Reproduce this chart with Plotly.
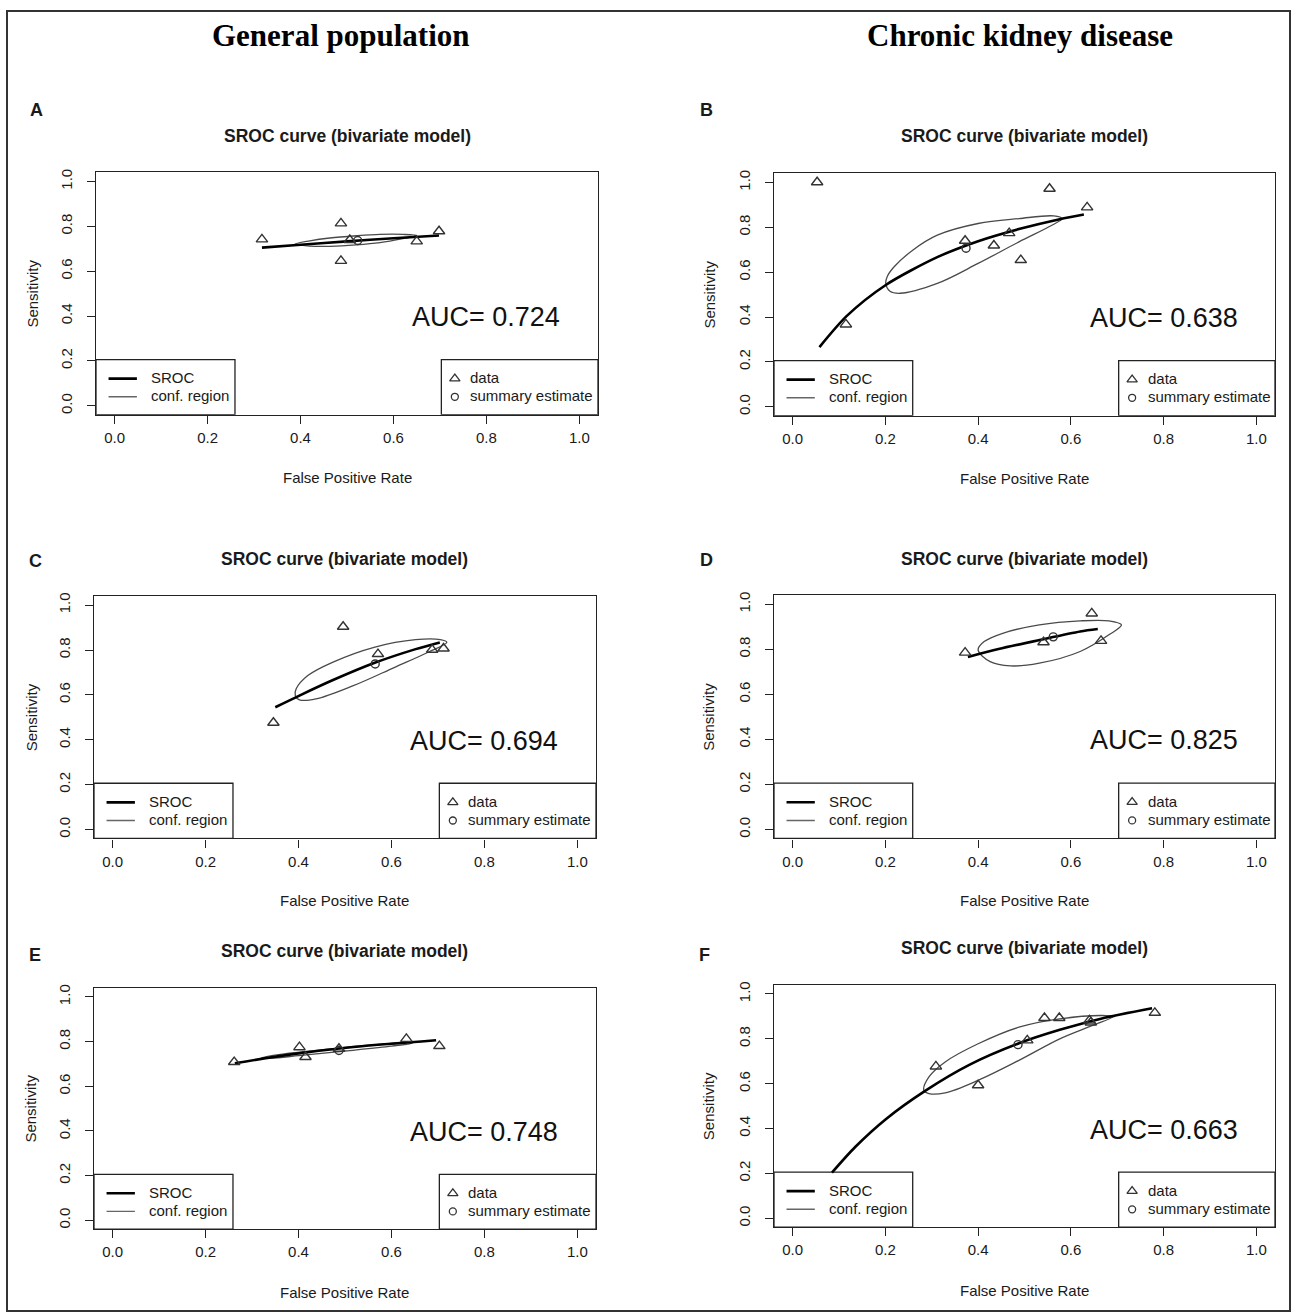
import plotly.graph_objects as go

W, H = 1293, 1313

# ---------------- data ----------------
panel_letters = ["A", "B", "C", "D", "E", "F"]
auc_values = ["0.724", "0.638", "0.694", "0.825", "0.748", "0.663"]
column_titles = ["General population", "Chronic kidney disease"]
tick_vals = [0.0, 0.2, 0.4, 0.6, 0.8, 1.0]
tick_text = ["0.0", "0.2", "0.4", "0.6", "0.8", "1.0"]

# Panel A
A_data_fpr = [0.317, 0.487, 0.487, 0.650, 0.698, 0.506]
A_data_sens = [0.742, 0.813, 0.646, 0.733, 0.778, 0.739]
A_sum_fpr = [0.523]
A_sum_sens = [0.737]
A_sroc_fpr = [0.317, 0.400, 0.500, 0.600, 0.698]
A_sroc_sens = [0.705, 0.718, 0.733, 0.747, 0.759]
A_ell_fpr = [0.388, 0.420, 0.463, 0.520, 0.571, 0.620, 0.650, 0.620, 0.571, 0.520, 0.463, 0.420, 0.388]
A_ell_sens = [0.720, 0.735, 0.748, 0.758, 0.764, 0.764, 0.759, 0.745, 0.727, 0.717, 0.711, 0.712, 0.720]

# Panel B
B_data_fpr = [0.053, 0.554, 0.635, 0.372, 0.434, 0.467, 0.492, 0.115]
B_data_sens = [1.001, 0.972, 0.889, 0.740, 0.719, 0.774, 0.654, 0.367]
B_sum_fpr = [0.374]
B_sum_sens = [0.707]
B_sroc_fpr = [0.058, 0.117, 0.201, 0.312, 0.400, 0.488, 0.576, 0.628]
B_sroc_sens = [0.266, 0.405, 0.543, 0.667, 0.738, 0.792, 0.836, 0.857]
B_ell_fpr = [0.581, 0.563, 0.488, 0.400, 0.312, 0.259, 0.219, 0.204, 0.201, 0.210, 0.232, 0.312, 0.400, 0.488, 0.559, 0.581]
B_ell_sens = [0.839, 0.851, 0.839, 0.817, 0.765, 0.698, 0.624, 0.580, 0.550, 0.515, 0.506, 0.550, 0.639, 0.735, 0.809, 0.839]

# Panel C
C_data_fpr = [0.496, 0.571, 0.6875, 0.712, 0.346]
C_data_sens = [0.904, 0.782, 0.801, 0.807, 0.476]
C_sum_fpr = [0.565]
C_sum_sens = [0.738]
C_sroc_fpr = [0.350, 0.402, 0.473, 0.5625, 0.652, 0.704]
C_sroc_sens = [0.545, 0.597, 0.665, 0.742, 0.804, 0.834]
C_ell_fpr = [0.719, 0.705, 0.652, 0.5625, 0.473, 0.420, 0.395, 0.393, 0.402, 0.4375, 0.518, 0.607, 0.679, 0.719]
C_ell_sens = [0.834, 0.846, 0.846, 0.812, 0.745, 0.686, 0.627, 0.597, 0.578, 0.582, 0.641, 0.723, 0.790, 0.834]

# Panel D
D_data_fpr = [0.372, 0.541, 0.645, 0.665]
D_data_sens = [0.785, 0.831, 0.959, 0.837]
D_sum_fpr = [0.562]
D_sum_sens = [0.855]
D_sroc_fpr = [0.378, 0.444, 0.532, 0.620, 0.658]
D_sroc_sens = [0.766, 0.801, 0.841, 0.879, 0.890]
D_ell_fpr = [0.709, 0.682, 0.620, 0.532, 0.453, 0.413, 0.400, 0.426, 0.470, 0.532, 0.620, 0.682, 0.709]
D_ell_sens = [0.908, 0.926, 0.926, 0.908, 0.871, 0.834, 0.797, 0.745, 0.726, 0.738, 0.790, 0.864, 0.908]

# Panel E
E_data_fpr = [0.2616, 0.402, 0.415, 0.487, 0.632, 0.703]
E_data_sens = [0.7086, 0.775, 0.731, 0.768, 0.812, 0.780]
E_sum_fpr = [0.487]
E_sum_sens = [0.760]
E_sroc_fpr = [0.263, 0.384, 0.518, 0.696]
E_sroc_sens = [0.703, 0.743, 0.776, 0.806]
E_ell_fpr = [0.320, 0.380, 0.480, 0.580, 0.635, 0.645, 0.600, 0.500, 0.400, 0.340, 0.320]
E_ell_sens = [0.727, 0.748, 0.770, 0.789, 0.797, 0.793, 0.780, 0.758, 0.737, 0.726, 0.727]

# Panel F
F_data_fpr = [0.309, 0.400, 0.506, 0.543, 0.575, 0.640, 0.643, 0.781]
F_data_sens = [0.677, 0.593, 0.793, 0.893, 0.893, 0.882, 0.873, 0.916]
F_sum_fpr = [0.486]
F_sum_sens = [0.774]
F_sroc_fpr = [0.085, 0.135, 0.201, 0.285, 0.382, 0.488, 0.576, 0.665, 0.775]
F_sroc_sens = [0.204, 0.318, 0.442, 0.567, 0.685, 0.780, 0.840, 0.890, 0.936]
F_ell_fpr = [0.691, 0.665, 0.576, 0.488, 0.400, 0.329, 0.294, 0.283, 0.294, 0.329, 0.400, 0.488, 0.576, 0.647, 0.691]
F_ell_sens = [0.899, 0.904, 0.889, 0.852, 0.778, 0.697, 0.630, 0.571, 0.556, 0.559, 0.615, 0.704, 0.800, 0.860, 0.899]

panel_data = {
    "A": (A_data_fpr, A_data_sens, A_sum_fpr, A_sum_sens, A_sroc_fpr, A_sroc_sens, A_ell_fpr, A_ell_sens),
    "B": (B_data_fpr, B_data_sens, B_sum_fpr, B_sum_sens, B_sroc_fpr, B_sroc_sens, B_ell_fpr, B_ell_sens),
    "C": (C_data_fpr, C_data_sens, C_sum_fpr, C_sum_sens, C_sroc_fpr, C_sroc_sens, C_ell_fpr, C_ell_sens),
    "D": (D_data_fpr, D_data_sens, D_sum_fpr, D_sum_sens, D_sroc_fpr, D_sroc_sens, D_ell_fpr, D_ell_sens),
    "E": (E_data_fpr, E_data_sens, E_sum_fpr, E_sum_sens, E_sroc_fpr, E_sroc_sens, E_ell_fpr, E_ell_sens),
    "F": (F_data_fpr, F_data_sens, F_sum_fpr, F_sum_sens, F_sroc_fpr, F_sroc_sens, F_ell_fpr, F_ell_sens),
}

# ---------------- layout geometry (pixels) ----------------
# plot boxes: left, right, top, bottom
boxes = {
    "A": (96, 598, 169, 412),
    "B": (774, 1275, 170, 413),
    "C": (94, 596, 594, 837),
    "D": (774, 1275, 593, 837),
    "E": (94, 596, 987, 1229),
    "F": (774, 1275, 984, 1227),
}
subtitle_y = {"A": 132, "B": 132, "C": 557, "D": 557, "E": 950, "F": 947}
letter_pos = {"A": (36, 106), "B": (706, 106), "C": (35, 559), "D": (706, 558), "E": (35, 954), "F": (704, 954)}
xlabel_y = {"A": 475, "B": 476, "C": 899, "D": 899, "E": 1292, "F": 1290}
ylabel_x = {"A": 33, "B": 710, "C": 31, "D": 709, "E": 31, "F": 708}


def pxx(x):
    return x / W


def pyy(y):
    return 1 - y / H


SANS = "Liberation Sans, Arial, Helvetica, sans-serif"
SERIF = "Liberation Serif, Times New Roman, serif"
TXT = "#1a1a1a"
AX = "#222222"

fig = go.Figure()
layout = {}
shapes = []
annotations = []

RNG = [-0.04, 1.04]

for i, key in enumerate(panel_letters):
    n = "" if i == 0 else str(i + 1)
    xa, ya = "x" + n, "y" + n
    l, r, t, b = boxes[key]
    layout["xaxis" + n] = dict(
        domain=[pxx(l), pxx(r)], range=RNG, anchor=ya,
        showgrid=False, zeroline=False, showline=True, mirror=True,
        linecolor=AX, linewidth=1.3, ticks="outside", ticklen=8, tickwidth=1.2,
        tickcolor=AX, tickvals=tick_vals, ticktext=tick_text,
        tickfont=dict(family=SANS, size=15, color=TXT), ticklabelstandoff=1,
        fixedrange=True,
    )
    layout["yaxis" + n] = dict(
        domain=[pyy(b), pyy(t)], range=RNG, anchor=xa,
        showgrid=False, zeroline=False, showline=True, mirror=True,
        linecolor=AX, linewidth=1.3, ticks="outside", ticklen=8, tickwidth=1.2,
        tickcolor=AX, tickvals=tick_vals, ticktext=tick_text, tickangle=-90,
        tickfont=dict(family=SANS, size=15, color=TXT), ticklabelstandoff=9,
        fixedrange=True,
    )

    dfpr, dsens, sfpr, ssens, rfpr, rsens, efpr, esens = panel_data[key]

    # legend boxes (drawn beneath traces)
    shapes.append(dict(type="rect", xref=xa, yref=ya, x0=-0.04, x1=0.259, y0=-0.04, y1=0.206,
                       line=dict(color=AX, width=1.3), fillcolor="white", layer="below"))
    shapes.append(dict(type="rect", xref=xa, yref=ya, x0=0.703, x1=1.04, y0=-0.04, y1=0.206,
                       line=dict(color=AX, width=1.3), fillcolor="white", layer="below"))
    # legend line samples
    shapes.append(dict(type="line", xref=xa, yref=ya, x0=-0.013, x1=0.048, y0=0.121, y1=0.121,
                       line=dict(color="black", width=2.6), layer="below"))
    shapes.append(dict(type="line", xref=xa, yref=ya, x0=-0.013, x1=0.048, y0=0.040, y1=0.040,
                       line=dict(color="#666666", width=1.4), layer="below"))

    # confidence region
    fig.add_trace(go.Scatter(x=efpr, y=esens, mode="lines", xaxis=xa, yaxis=ya,
                             line=dict(color="#4a4a4a", width=1.3, shape="spline", smoothing=1.0),
                             showlegend=False, hoverinfo="skip"))
    # SROC curve
    fig.add_trace(go.Scatter(x=rfpr, y=rsens, mode="lines", xaxis=xa, yaxis=ya,
                             line=dict(color="black", width=2.6, shape="spline", smoothing=0.8),
                             showlegend=False, hoverinfo="skip"))
    # data points
    fig.add_trace(go.Scatter(x=dfpr, y=dsens, mode="markers", xaxis=xa, yaxis=ya,
                             marker=dict(symbol="triangle-up-open", size=10, color="#333333",
                                         line=dict(width=1.4, color="#333333")),
                             showlegend=False, hoverinfo="skip"))
    # summary estimate
    fig.add_trace(go.Scatter(x=sfpr, y=ssens, mode="markers", xaxis=xa, yaxis=ya,
                             marker=dict(symbol="circle-open", size=8, color="#333333",
                                         line=dict(width=1.4, color="#333333")),
                             showlegend=False, hoverinfo="skip"))
    # legend markers
    fig.add_trace(go.Scatter(x=[0.732], y=[0.121], mode="markers", xaxis=xa, yaxis=ya,
                             marker=dict(symbol="triangle-up-open", size=9, color="#333333",
                                         line=dict(width=1.3, color="#333333")),
                             showlegend=False, hoverinfo="skip"))
    fig.add_trace(go.Scatter(x=[0.732], y=[0.040], mode="markers", xaxis=xa, yaxis=ya,
                             marker=dict(symbol="circle-open", size=7, color="#333333",
                                         line=dict(width=1.3, color="#333333")),
                             showlegend=False, hoverinfo="skip"))

    legfont = dict(family=SANS, size=15, color=TXT)
    for txt, xx, yy in [("SROC", 0.074, 0.125), ("conf. region", 0.074, 0.044),
                        ("data", 0.761, 0.125), ("summary estimate", 0.761, 0.044)]:
        annotations.append(dict(text=txt, x=xx, y=yy, xref=xa, yref=ya, showarrow=False,
                                xanchor="left", yanchor="middle", font=legfont))

    # AUC text
    annotations.append(dict(text="AUC= " + auc_values[i], x=0.80, y=0.395, xref=xa, yref=ya,
                            showarrow=False, xanchor="center", yanchor="middle",
                            font=dict(family=SANS, size=27, color="#111111")))

    cx = (l + r) / 2
    # subtitle
    annotations.append(dict(text="<b>SROC curve (bivariate model)</b>", x=pxx(cx), y=pyy(subtitle_y[key]),
                            xref="paper", yref="paper", showarrow=False, xanchor="center",
                            yanchor="middle", font=dict(family=SANS, size=17.5, color=TXT)))
    # panel letter
    lx, ly = letter_pos[key]
    annotations.append(dict(text="<b>" + key + "</b>", x=pxx(lx), y=pyy(ly), xref="paper", yref="paper",
                            showarrow=False, xanchor="center", yanchor="middle",
                            font=dict(family=SANS, size=18, color=TXT)))
    # axis titles
    annotations.append(dict(text="False Positive Rate", x=pxx(cx), y=pyy(xlabel_y[key]), xref="paper",
                            yref="paper", showarrow=False, xanchor="center", yanchor="middle",
                            font=dict(family=SANS, size=15, color=TXT)))
    annotations.append(dict(text="Sensitivity", x=pxx(ylabel_x[key]), y=pyy((t + b) / 2), xref="paper",
                            yref="paper", showarrow=False, xanchor="center", yanchor="middle",
                            textangle=-90, font=dict(family=SANS, size=15, color=TXT)))

# column titles
annotations.append(dict(text="<b>" + column_titles[0] + "</b>", x=pxx(341), y=pyy(32), xref="paper",
                        yref="paper", showarrow=False, xanchor="center", yanchor="middle",
                        font=dict(family=SERIF, size=31, color="black")))
annotations.append(dict(text="<b>" + column_titles[1] + "</b>", x=pxx(1020), y=pyy(32), xref="paper",
                        yref="paper", showarrow=False, xanchor="center", yanchor="middle",
                        font=dict(family=SERIF, size=31, color="black")))

# outer frame
shapes.append(dict(type="rect", xref="paper", yref="paper", x0=pxx(7), x1=pxx(1290), y0=pyy(1311), y1=pyy(7),
                   line=dict(color="#333333", width=2), fillcolor="rgba(0,0,0,0)", layer="above"))

fig.update_layout(
    width=W, height=H, margin=dict(l=0, r=0, t=0, b=0),
    paper_bgcolor="white", plot_bgcolor="white",
    showlegend=False, shapes=shapes, annotations=annotations,
    **layout,
)

fig.write_html("out.html", config={"displayModeBar": False})
